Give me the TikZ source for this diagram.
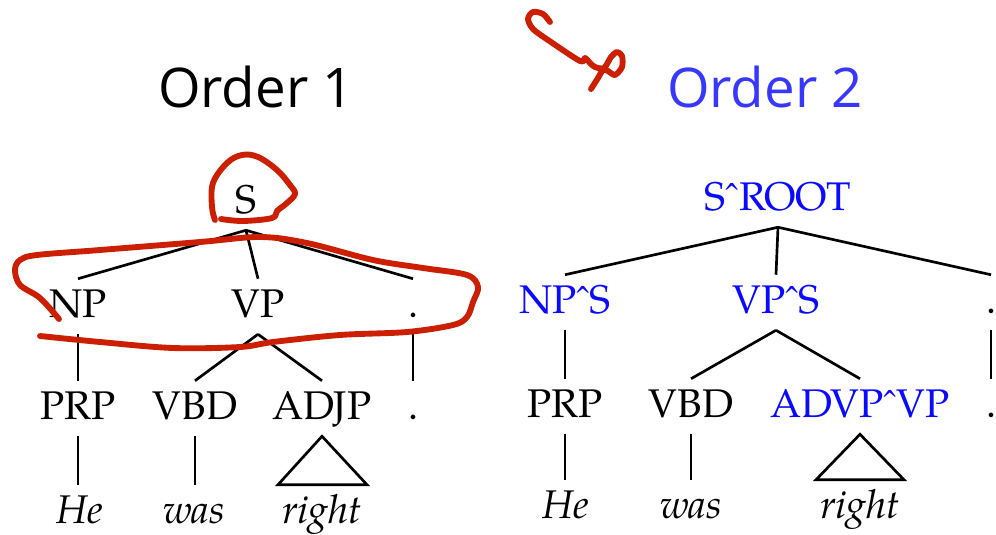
\documentclass[tikz,border=0pt]{standalone}
\usepackage{fontspec}
\usetikzlibrary{calc}
\setmainfont{TeX Gyre Pagella}
\newfontfamily\titlefont{Open Sans}
\definecolor{inkred}{RGB}{204,30,0}
\definecolor{labelblue}{RGB}{10,10,255}
\definecolor{titleblue}{RGB}{55,55,255}
% small raised circumflex used between category names
\newcommand{\parentmark}{\char"02C6\relax}
\begin{document}
\begin{tikzpicture}[x=0.75pt,y=-0.75pt,
  lbl/.style={font=\fontsize{30}{30}\selectfont, anchor=base, inner sep=0pt,
              text height=28.5pt, text depth=12.75pt},
  word/.style={lbl, font=\fontsize{30}{30}\selectfont\itshape},
  ann/.style={lbl, text=labelblue},
  title/.style={font=\titlefont\fontsize{41}{41}\selectfont, anchor=base, inner sep=0pt},
  edge/.style={line width=2pt},
  ink/.style={draw=inkred, line width=4.4pt, line cap=round, line join=round}]
\useasboundingbox (0,0) rectangle (996,535);

% titles
\node[title] (t1) at (256,108) {Order 1};
\node[title, text=titleblue] (t2) at (765,108) {Order 2};

% ---- first tree ----
\node[lbl] (S)    at (246,213) {S};
\node[lbl] (NP)   at (78,317)  {NP};
\node[lbl] (VP)   at (258,317) {VP};
\node[lbl] (D1)   at (413,317) {.};
\node[lbl] (PRP)  at (78,419)  {PRP};
\node[lbl] (VBD)  at (195,419) {VBD};
\node[lbl] (ADJP) at (322,419) {ADJP};
\node[lbl] (D1b)  at (413,419) {.};
\node[word] (He)  at (80,523)  {He};
\node[word] (was) at (194,523) {was};
\node[word] (rt)  at (322,523) {right};

\draw[edge] (S.south) -- (NP.north);
\draw[edge] (S.south) -- (VP.north);
\draw[edge] (S.south) -- (D1.north);
\draw[edge] (NP.south) -- (NP.south |- PRP.north);
\draw[edge] (VP.south) -- (VBD.north);
\draw[edge] (VP.south) -- (ADJP.north);
\draw[edge] (D1.south) -- (D1.south |- D1b.north);
\draw[edge] (PRP.south) -- (PRP.south |- He.north);
\draw[edge] (VBD.south) -- (VBD.south |- was.north);
\draw[edge, line join=miter] (ADJP.south) -- ($(rt.north)+(-44,0)$) -- ($(rt.north)+(45,0)$) -- cycle;

% ---- second tree ----
\node[ann] (R)    at (778,210) {S\parentmark ROOT};
\node[ann] (NPS)  at (565,313) {NP\parentmark S};
\node[ann] (VPS)  at (776,313) {VP\parentmark S};
\node[lbl] (D2)   at (991,313) {.};
\node[lbl] (PRP2) at (565,417) {PRP};
\node[lbl] (VBD2) at (691,417) {VBD};
\node[ann] (ADVP) at (860,417) {ADVP\parentmark VP};
\node[lbl] (D2b)  at (991,417) {.};
\node[word] (He2)  at (566,518) {He};
\node[word] (was2) at (691,518) {was};
\node[word] (rt2)  at (860,518) {right};

\draw[edge] (R.south) -- (NPS.north);
\draw[edge] (R.south) -- (VPS.north);
\draw[edge] (R.south) -- (D2.north);
\draw[edge] (NPS.south) -- (NPS.south |- PRP2.north);
\draw[edge] (VPS.south) -- (VBD2.north);
\draw[edge] (VPS.south) -- (ADVP.north);
\draw[edge] (D2.south) -- (D2.south |- D2b.north);
\draw[edge] (PRP2.south) -- (PRP2.south |- He2.north);
\draw[edge] (VBD2.south) -- (VBD2.south |- was2.north);
\draw[edge, line join=miter] (ADVP.south) -- ($(rt2.north)+(-44,0)$) -- ($(rt2.north)+(44,0)$) -- cycle;

% ---- pen marks ----
\draw[ink] plot[smooth, tension=0.6] coordinates {
  (215,220) (212,207) (213,183) (227,163) (242,155) (258,157) (277,170)
  (290,185) (295,194) (287,203) (277,211) (272,218) (243,221) (221,219)};
\draw[ink] plot[smooth, tension=0.55] coordinates {
  (59,319) (40,298) (20,285) (15,270) (20,260) (37,255) (100,250) (200,242)
  (260,237) (307,243) (373,260) (423,268) (467,275) (478,287) (473,302)
  (467,317) (453,325) (407,332) (340,335) (273,342) (240,347) (173,348)
  (100,342) (40,336)};
\draw[ink] plot[smooth, tension=0.5] coordinates {
  (550,22) (543,14) (533,12) (528,19) (533,29) (548,40) (580,61) (585,58)
  (590,63) (595,67) (604,68) (611,57) (617,52) (622,56) (622,67) (615,75)
  (608,71) (603,70) (598,78) (591,89)};
\end{tikzpicture}
\end{document}
